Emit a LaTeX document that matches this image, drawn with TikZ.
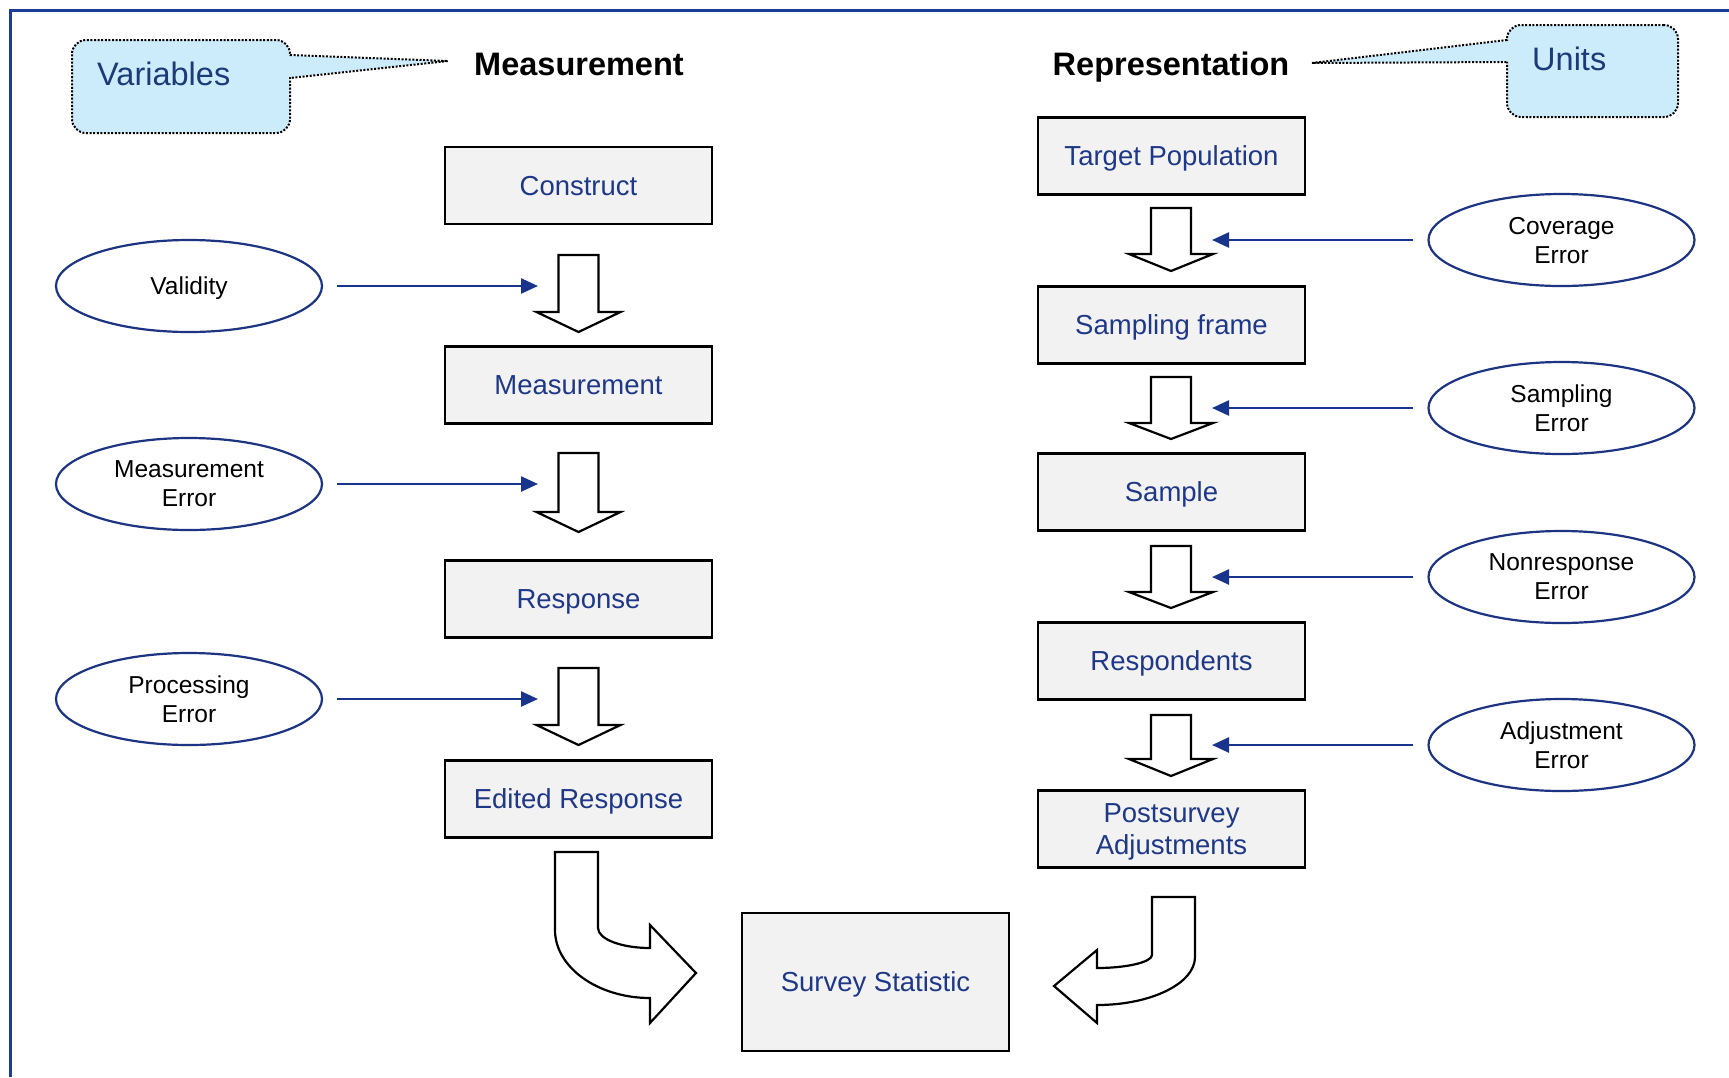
\documentclass[tikz,border=0pt]{standalone}
\usepackage{fontspec}
\setmainfont{Liberation Sans}
\usetikzlibrary{arrows.meta,shapes.geometric}
\definecolor{tblue}{RGB}{30,56,135}
\definecolor{lblue}{RGB}{24,52,140}
\definecolor{eblue}{RGB}{28,52,130}
\definecolor{boxgray}{RGB}{242,242,242}
\definecolor{callfill}{RGB}{204,236,252}
\definecolor{calltext}{RGB}{28,58,120}
\definecolor{frameblue}{RGB}{30,60,150}
\newcommand\blockdown[4]{% x, top, headbase, tip
  \draw[blockar] (#1-20,#2) -- (#1+20,#2) -- (#1+20,#3) -- (#1+42,#3) -- (#1,#4) -- (#1-42,#3) -- (#1-20,#3) -- cycle;
}
\tikzset{
  box/.style={draw=black, line width=2.2pt, fill=boxgray, minimum width=267pt, minimum height=77pt,
    inner sep=0pt, text=tblue, font=\fontsize{27.5}{32}\selectfont, align=center, text depth=0pt},
  err/.style={ellipse, draw=eblue, line width=2.2pt, fill=white, minimum width=266pt, minimum height=92pt,
    inner sep=0pt, font=\fontsize{24.5}{29}\selectfont, align=center, text depth=0pt},
  blockar/.style={draw=black, line width=2.2pt, fill=white, line join=miter},
  conn/.style={draw=lblue, line width=2.5pt, -{Triangle[length=17pt,width=15pt]}, shorten <=14pt},
  callbox/.style={draw=black, line width=2pt, dash pattern=on 2pt off 1.6pt, fill=callfill,
    rounded corners=14pt, inner sep=0pt},
  calltail/.style={draw=black, line width=2pt, dash pattern=on 2pt off 1.6pt},
  calltext/.style={text=calltext, font=\fontsize{32.5}{38}\selectfont, inner sep=0pt},
  header/.style={font=\fontsize{32.5}{38}\selectfont\bfseries, inner sep=0pt},
}
\begin{document}
\begin{tikzpicture}[x=1pt,y=-1pt]
\useasboundingbox (0,0) rectangle (1729,1077);
\fill[white] (0,0) rectangle (1729,1077);
% frame
\draw[frameblue, line width=3pt] (10.5,1077) -- (10.5,10.5) -- (1729,10.5);

% callouts
\node[callbox, minimum width=218pt, minimum height=93pt] (varbox) at (181,86.5) {};
\fill[callfill] (286,55.5) -- (448,61) -- (286,77.5) -- cycle;
\coordinate (vtip) at (448,61);
\draw[calltail] (290,55) -- (vtip) -- (290,78);
\node[calltext, anchor=base west] (vartext) at (97,85) {Variables};

\node[callbox, minimum width=171pt, minimum height=92pt] (unitbox) at (1592.5,71) {};
\fill[callfill] (1511,40.5) -- (1312,63) -- (1511,61.5) -- cycle;
\coordinate (utip) at (1312,63);
\draw[calltail] (1507,40) -- (utip) -- (1507,62);
\node[calltext, anchor=base west] (unittext) at (1532,70) {Units};

% headers
\node[header, anchor=base] (hmeas) at (579,75) {Measurement};
\node[header, anchor=base] (hrep) at (1171,75) {Representation};

% left column boxes
\node[box] (construct) at (578.5,185.5) {Construct};
\node[box] (measure) at (578.5,385) {Measurement};
\node[box] (response) at (578.5,599) {Response};
\node[box] (edited) at (578.5,799) {Edited Response};

% right column boxes
\node[box] (target) at (1171.5,156) {Target Population};
\node[box] (frame) at (1171.5,325) {Sampling frame};
\node[box] (sample) at (1171.5,492) {Sample};
\node[box] (respondents) at (1171.5,661) {Respondents};
\node[box] (post) at (1171.5,829) {Postsurvey\\Adjustments};

% survey statistic
\node[box, minimum height=138pt] (stat) at (875.5,982) {Survey Statistic};

% block arrows, left
\blockdown{578.5}{255}{312}{332}
\blockdown{578.5}{453}{512}{532}
\blockdown{578.5}{668}{725}{745}
% block arrows, right
\blockdown{1171}{208}{254}{271}
\blockdown{1171}{377}{423}{439}
\blockdown{1171}{546}{592}{608}
\blockdown{1171}{715}{759}{776}

% error ellipses
\node[err] (validity) at (189,286) {Validity};
\node[err] (merr) at (189,484) {Measurement\\Error};
\node[err] (perr) at (189,699) {Processing\\Error};
\node[err] (cov) at (1561.5,240) {Coverage\\Error};
\node[err] (serr) at (1561.5,408) {Sampling\\Error};
\node[err] (nerr) at (1561.5,577) {Nonresponse\\Error};
\node[err] (aerr) at (1561.5,745) {Adjustment\\Error};

% connector targets
\coordinate (l1) at (538,286);
\coordinate (l2) at (538,484);
\coordinate (l3) at (538,699);
\coordinate (r1) at (1212,240);
\coordinate (r2) at (1212,408);
\coordinate (r3) at (1212,577);
\coordinate (r4) at (1212,745);
\draw[conn] (validity) -- (l1);
\draw[conn] (merr) -- (l2);
\draw[conn] (perr) -- (l3);
\draw[conn] (cov) -- (r1);
\draw[conn] (serr) -- (r2);
\draw[conn] (nerr) -- (r3);
\draw[conn] (aerr) -- (r4);

% curved block arrows to survey statistic
\draw[blockar] (555,852) -- (598,852) -- (598,928)
  .. controls (598,939) and (621,948) .. (650,948)
  -- (650,925) -- (696,973) -- (650,1023) -- (650,998)
  .. controls (598,998) and (555,967.5) .. (555,930) -- cycle;
\draw[blockar] (1152,897) -- (1195,897) -- (1195,957)
  .. controls (1195,983.5) and (1151,1005) .. (1097,1005)
  -- (1097,1023) -- (1054,986) -- (1097,950) -- (1097,968)
  .. controls (1127,968) and (1152,962) .. (1152,955) -- cycle;
\end{tikzpicture}
\end{document}
